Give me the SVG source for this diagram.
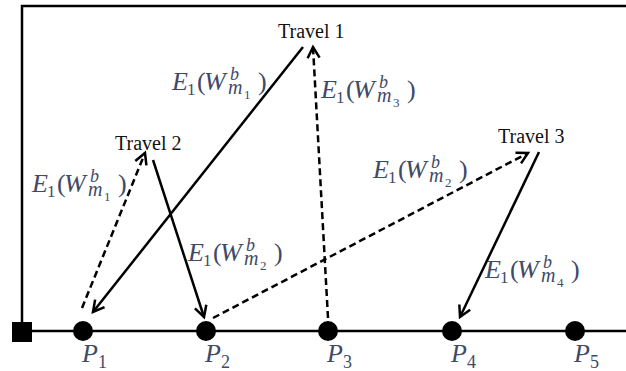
<svg xmlns="http://www.w3.org/2000/svg" width="626" height="371" viewBox="0 0 626 371">
<defs>
<marker id="ah" markerUnits="userSpaceOnUse" markerWidth="14" markerHeight="14" refX="11" refY="6" orient="auto" overflow="visible">
<path d="M0,0 L11,6 L0,12" fill="none" stroke="#000" stroke-width="2.5" stroke-dasharray="none" stroke-linejoin="miter"/>
</marker>
</defs>
<style>
.frame{fill:none;stroke:#000;stroke-width:2.5}
.pt{fill:#000}
.con{fill:none;stroke:#000;stroke-width:2.5;marker-end:url(#ah)}
.dash{stroke-dasharray:7 4}
.tr{font-family:"Liberation Serif",serif;font-size:20px;fill:#111}
.m{font-family:"Liberation Serif",serif;fill:#3f4a68;font-size:26px}
.i{font-style:italic}
.n{font-style:normal}
.sub{font-size:17px}
.sb{font-size:18px}
.sm{font-size:20px}
.xs{font-size:13px}
.pl{font-family:"Liberation Serif",serif;fill:#3f4a68;font-style:italic;font-size:26px}
</style>
<rect width="626" height="371" fill="#fff"/>
<g id="frame">
<path class="frame" d="M22,331 V6 H626" stroke-width="3"/>
<path class="frame" d="M22,331 H626"/>
<rect x="12" y="322" width="20" height="20" fill="#000"/>
</g>
<g id="P1"><circle class="pt" cx="83" cy="331" r="10"/><text class="pl" x="82" y="362">P<tspan class="n" font-size="18" dy="6">1</tspan></text></g>
<g id="P2"><circle class="pt" cx="206" cy="331" r="10"/><text class="pl" x="205" y="362">P<tspan class="n" font-size="18" dy="6">2</tspan></text></g>
<g id="P3"><circle class="pt" cx="328" cy="331" r="10"/><text class="pl" x="327" y="362">P<tspan class="n" font-size="18" dy="6">3</tspan></text></g>
<g id="P4"><circle class="pt" cx="452" cy="331" r="10"/><text class="pl" x="451" y="362">P<tspan class="n" font-size="18" dy="6">4</tspan></text></g>
<g id="P5"><circle class="pt" cx="575" cy="331" r="10"/><text class="pl" x="574" y="362">P<tspan class="n" font-size="18" dy="6">5</tspan></text></g>
<g id="travel1"><text class="tr" x="278" y="38">Travel 1</text></g>
<g id="travel2"><text class="tr" x="115" y="150">Travel 2</text></g>
<g id="travel3"><text class="tr" x="498" y="143">Travel 3</text></g>
<g id="connectors">
<line class="con" x1="303" y1="47" x2="93" y2="312"/>
<line class="con dash" x1="328" y1="318" x2="313" y2="47"/>
<line class="con dash" x1="82" y1="308" x2="145" y2="153"/>
<line class="con" x1="153" y1="160" x2="204" y2="317"/>
<line class="con dash" x1="213" y1="318" x2="528" y2="153"/>
<line class="con" x1="539" y1="152" x2="460" y2="317"/>
</g>
<g id="labels">
<g transform="translate(172,90)"><text class="m"><tspan class="i" x="0" y="0">E</tspan><tspan class="sub" x="15" y="5">1</tspan><tspan x="25" y="0">(</tspan><tspan class="i" x="32" y="0">W</tspan><tspan class="sb i" x="58" y="-10">b</tspan><tspan class="sm i" x="56" y="4">m</tspan><tspan class="xs" x="72" y="9">1</tspan><tspan x="86" y="0">)</tspan></text></g>
<g transform="translate(321,98)"><text class="m"><tspan class="i" x="0" y="0">E</tspan><tspan class="sub" x="15" y="5">1</tspan><tspan x="25" y="0">(</tspan><tspan class="i" x="32" y="0">W</tspan><tspan class="sb i" x="58" y="-10">b</tspan><tspan class="sm i" x="56" y="4">m</tspan><tspan class="xs" x="72" y="9">3</tspan><tspan x="86" y="0">)</tspan></text></g>
<g transform="translate(32,192)"><text class="m"><tspan class="i" x="0" y="0">E</tspan><tspan class="sub" x="15" y="5">1</tspan><tspan x="25" y="0">(</tspan><tspan class="i" x="32" y="0">W</tspan><tspan class="sb i" x="58" y="-10">b</tspan><tspan class="sm i" x="56" y="4">m</tspan><tspan class="xs" x="72" y="9">1</tspan><tspan x="86" y="0">)</tspan></text></g>
<g transform="translate(373,178)"><text class="m"><tspan class="i" x="0" y="0">E</tspan><tspan class="sub" x="15" y="5">1</tspan><tspan x="25" y="0">(</tspan><tspan class="i" x="32" y="0">W</tspan><tspan class="sb i" x="58" y="-10">b</tspan><tspan class="sm i" x="56" y="4">m</tspan><tspan class="xs" x="72" y="9">2</tspan><tspan x="86" y="0">)</tspan></text></g>
<g transform="translate(188,261)"><text class="m"><tspan class="i" x="0" y="0">E</tspan><tspan class="sub" x="15" y="5">1</tspan><tspan x="25" y="0">(</tspan><tspan class="i" x="32" y="0">W</tspan><tspan class="sb i" x="58" y="-10">b</tspan><tspan class="sm i" x="56" y="4">m</tspan><tspan class="xs" x="72" y="9">2</tspan><tspan x="86" y="0">)</tspan></text></g>
<g transform="translate(485,278)"><text class="m"><tspan class="i" x="0" y="0">E</tspan><tspan class="sub" x="15" y="5">1</tspan><tspan x="25" y="0">(</tspan><tspan class="i" x="32" y="0">W</tspan><tspan class="sb i" x="58" y="-10">b</tspan><tspan class="sm i" x="56" y="4">m</tspan><tspan class="xs" x="72" y="9">4</tspan><tspan x="86" y="0">)</tspan></text></g>
</g>
</svg>
